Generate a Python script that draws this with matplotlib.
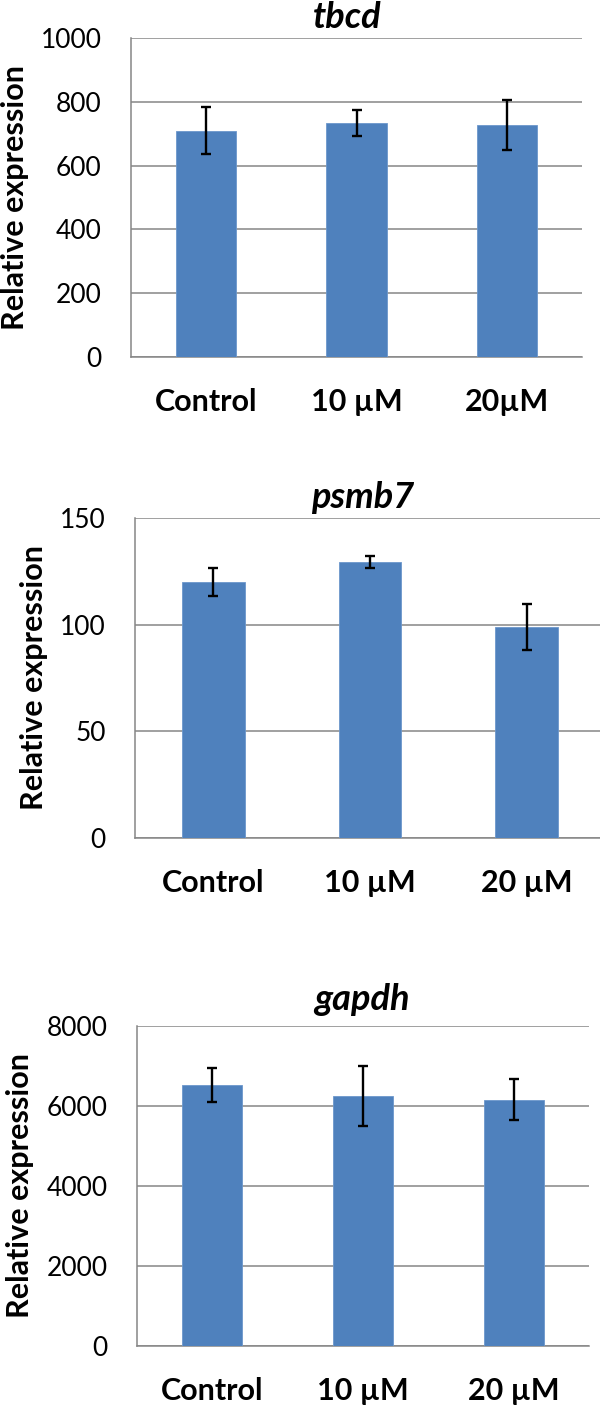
import matplotlib
matplotlib.use("Agg")
from matplotlib import pyplot as plt

# values
genes = ["tbcd", "psmb7", "gapdh"]
labels_tbcd = ["Control", "10 µM", "20µM"]
labels_psmb7 = ["Control", "10 µM", "20 µM"]
labels_gapdh = ["Control", "10 µM", "20 µM"]

tbcd_vals = [710, 733, 728]
tbcd_err = [75, 40, 79]
psmb7_vals = [120, 129.2, 98.8]
psmb7_err = [6.5, 2.8, 10.8]
gapdh_vals = [6520, 6244, 6161]
gapdh_err = [420, 750, 520]

tbcd_ticks = [0, 200, 400, 600, 800, 1000]
psmb7_ticks = [0, 50, 100, 150]
gapdh_ticks = [0, 2000, 4000, 6000, 8000]

W, H = 600, 1409
plt.rcParams['font.family'] = ['Lato', 'DejaVu Sans']
fig = plt.figure(figsize=(W / 100, H / 100), dpi=100)

BLUE = "#4F81BD"
GRID = "#868686"

# pixel boxes: left, right, top, bottom ; title centre x,y ; ylabel centre x
panels = [
    (genes[0], labels_tbcd, tbcd_vals, tbcd_err, tbcd_ticks, (131, 582, 38, 357), (347, 18), 15),
    (genes[1], labels_psmb7, psmb7_vals, psmb7_err, psmb7_ticks, (135, 605, 518, 838), (363, 497), 34),
    (genes[2], labels_gapdh, gapdh_vals, gapdh_err, gapdh_ticks, (137, 589, 1026, 1346), (362, 1000), 20),
]

for name, labels, vals, err, ticks, box, tpos, ylx in panels:
    l, r, t, b = box
    ax = fig.add_axes([l / W, 1 - b / H, (r - l) / W, (b - t) / H])
    x = range(len(vals))
    ax.bar(x, vals, width=0.4, color=BLUE, edgecolor="#6C97CC", linewidth=0.6, zorder=3)
    ax.errorbar(x, vals, yerr=err, fmt="none", ecolor="black", elinewidth=1.7,
                capsize=3.8, capthick=1.7, zorder=4)
    ax.set_xlim(-0.5, len(vals) - 0.5)
    ax.set_ylim(ticks[0], ticks[-1])
    ax.set_yticks(ticks)
    ax.set_xticks(list(x))
    ax.set_xticklabels(labels, fontsize=22, fontweight="bold")
    ax.tick_params(axis="y", length=0, pad=21, labelsize=19)
    ax.tick_params(axis="x", length=0, pad=22)
    ax.grid(axis="y", color=GRID, linewidth=1.1, zorder=0)
    for s in ["top", "right"]:
        ax.spines[s].set_visible(False)
    ax.spines["left"].set_color(GRID)
    ax.spines["bottom"].set_color(GRID)
    ax.spines["left"].set_linewidth(1.1)
    ax.spines["bottom"].set_linewidth(1.1)
    fig.text(tpos[0] / W, 1 - tpos[1] / H, name, fontsize=26, fontweight="bold",
             fontstyle="italic", ha="center", va="center")
    fig.text(ylx / W, 1 - (t + b) / 2 / H, "Relative expression", fontsize=22,
             fontweight="bold", rotation=90, ha="center", va="center")

fig.savefig("out.png", dpi=100)
